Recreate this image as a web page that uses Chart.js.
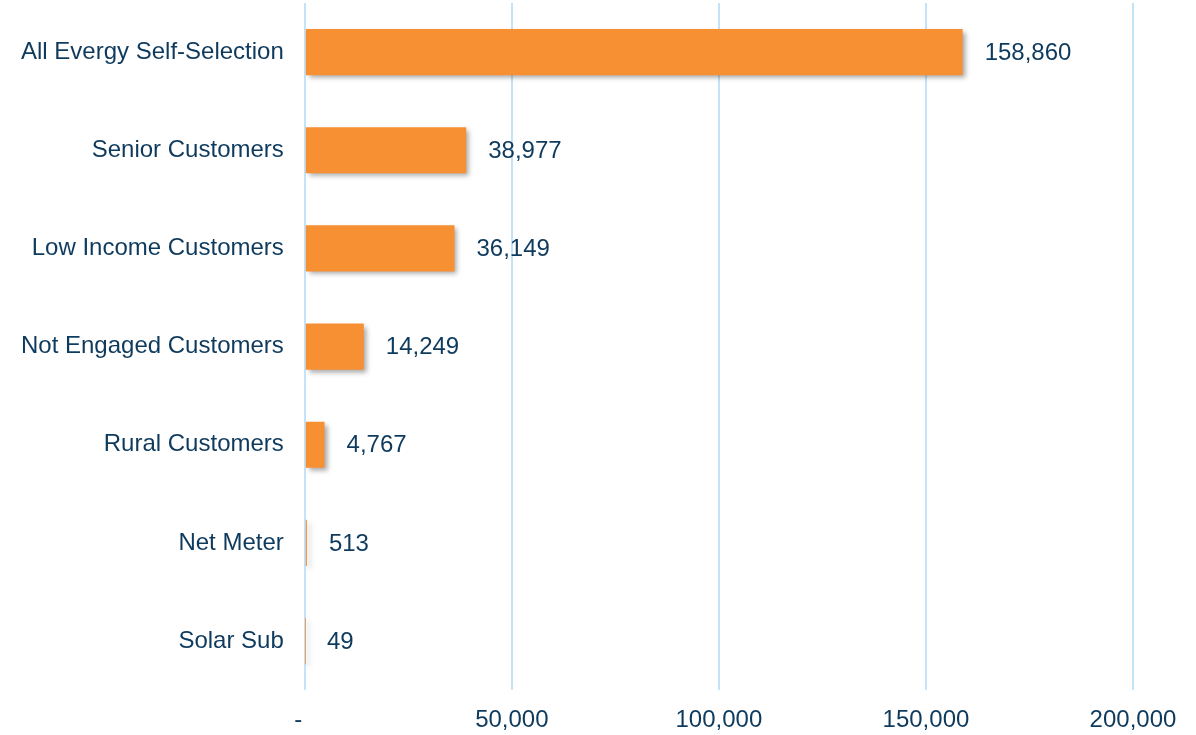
<!DOCTYPE html>
<html>
<head>
<meta charset="utf-8">
<script src="https://cdn.jsdelivr.net/npm/chart.js@4"></script>
<style>
  html, body { margin: 0; padding: 0; background: #fff; }
  #wrap { width: 1196px; height: 735px; }
</style>
</head>
<body>
<div id="wrap"><canvas id="segChart"></canvas></div>
<script>
const categories = [
    "All Evergy Self-Selection",
    "Senior Customers",
    "Low Income Customers",
    "Not Engaged Customers",
    "Rural Customers",
    "Net Meter",
    "Solar Sub"
];

const customerCounts = [158860, 38977, 36149, 14249, 4767, 513, 49];

const xTicks = [0, 50000, 100000, 150000, 200000];

const textColor = "#0E3A5D";
const barColor = "#F78F33";
const gridColor = "#C4E2F8";
const fontFamily = "'Liberation Sans', Arial, sans-serif";

// drop shadow under the bars, like the office chart
const barShadow = {
    id: "barShadow",
    beforeDatasetDraw(chart) {
        const c = chart.ctx;
        c.save();
        c.shadowColor = "rgba(0,0,0,0.35)";
        c.shadowBlur = 5;
        c.shadowOffsetX = 3;
        c.shadowOffsetY = 3;
    },
    afterDatasetDraw(chart) {
        chart.ctx.restore();
    }
};

// value labels to the right of each bar
const valueLabels = {
    id: "valueLabels",
    afterDatasetsDraw(chart) {
        const c = chart.ctx;
        const meta = chart.getDatasetMeta(0);
        c.save();
        c.fillStyle = textColor;
        c.font = "24px " + fontFamily;
        c.textAlign = "left";
        c.textBaseline = "middle";
        meta.data.forEach((bar, i) => {
            c.fillText(customerCounts[i].toLocaleString("en-US"), bar.x + 22, bar.y + 1);
        });
        c.restore();
    }
};

new Chart(document.getElementById("segChart"), {
    type: "bar",
    data: {
        labels: categories,
        datasets: [{
            data: customerCounts,
            backgroundColor: barColor,
            borderWidth: 0,
            barPercentage: 0.94,
            categoryPercentage: 0.5
        }]
    },
    options: {
        indexAxis: "y",
        responsive: true,
        maintainAspectRatio: false,
        animation: false,
        layout: {
            padding: { top: 3, right: 63, bottom: 0, left: 21 }
        },
        plugins: {
            legend: { display: false },
            tooltip: { enabled: false }
        },
        scales: {
            x: {
                min: 0,
                max: 200000,
                afterBuildTicks(axis) {
                    axis.ticks = xTicks.map(v => ({ value: v }));
                },
                border: { display: false },
                grid: {
                    color: gridColor,
                    lineWidth: 2,
                    drawTicks: true,
                    tickLength: 16,
                    tickColor: "rgba(0,0,0,0)"
                },
                ticks: {
                    padding: 0,
                    color: textColor,
                    font: { size: 24, family: fontFamily },
                    maxRotation: 0,
                    callback: (v) => v === 0 ? "-  " : v.toLocaleString("en-US")
                }
            },
            y: {
                border: { display: false },
                grid: {
                    display: true,
                    drawOnChartArea: false,
                    drawTicks: true,
                    tickLength: 21,
                    tickColor: "rgba(0,0,0,0)"
                },
                ticks: {
                    padding: 0,
                    color: textColor,
                    font: { size: 24, family: fontFamily, lineHeight: 0.2 }
                }
            }
        }
    },
    plugins: [barShadow, valueLabels]
});
</script>
</body>
</html>
